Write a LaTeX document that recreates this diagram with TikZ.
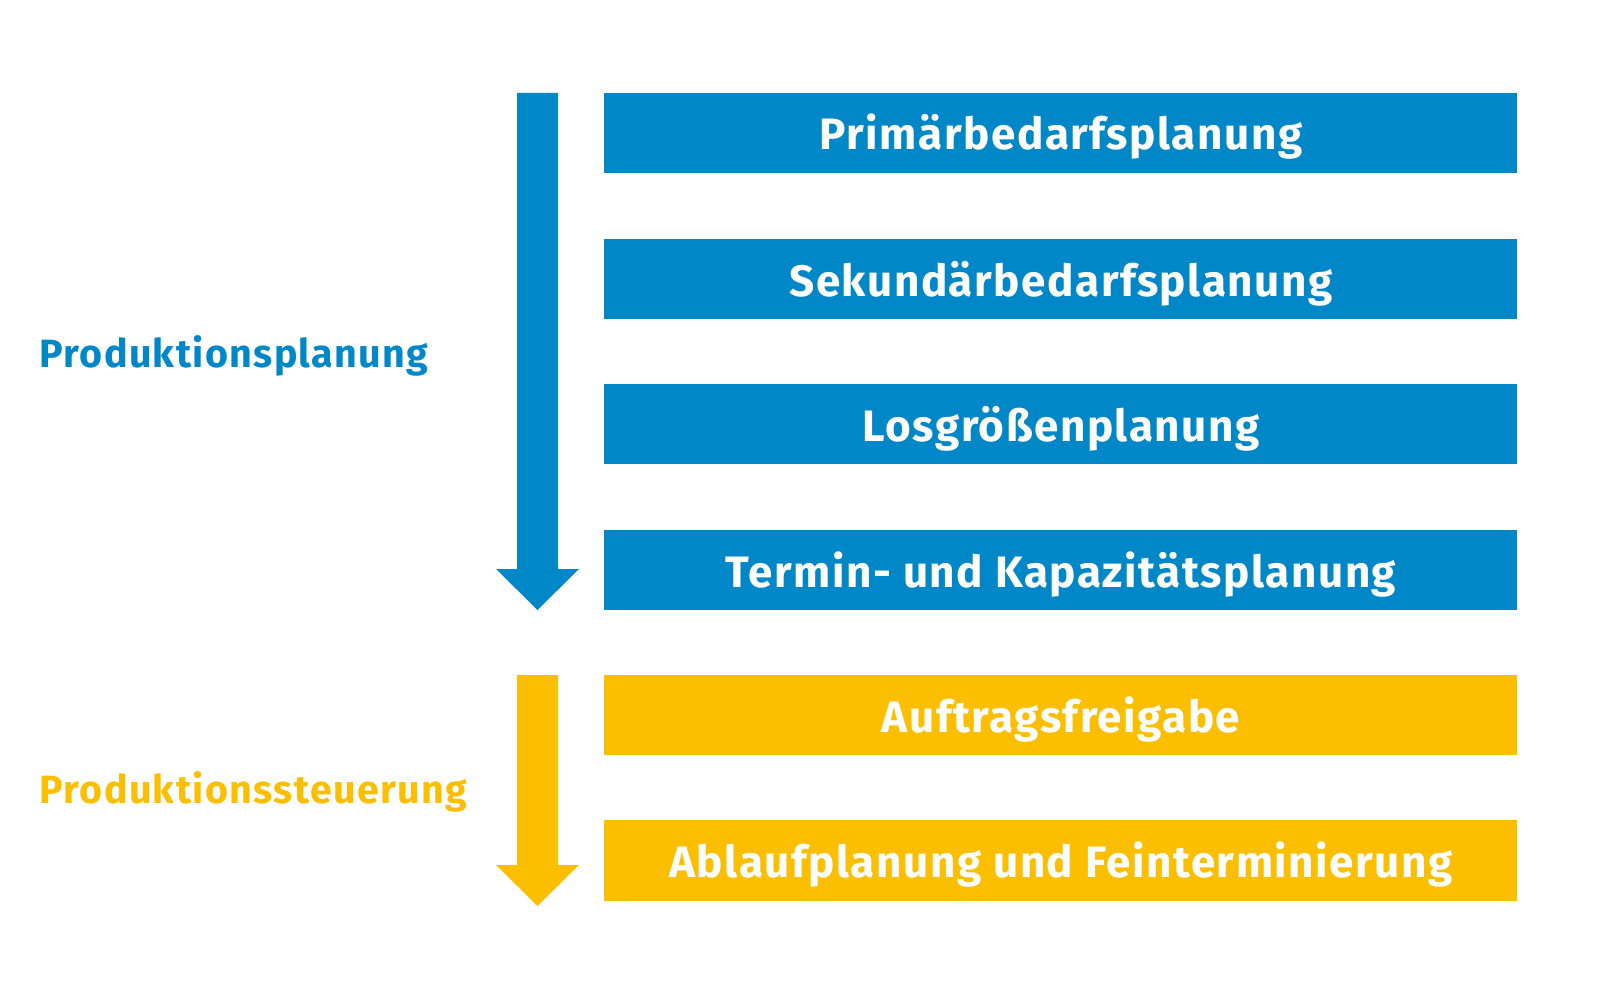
\documentclass[tikz,border=0pt]{standalone}
\usepackage{fontspec}
\setmainfont{Fira Sans}[UprightFont={* Bold},BoldFont={* Bold},LetterSpace=3.5]
\definecolor{pblue}{RGB}{0,135,200}
\definecolor{pyellow}{RGB}{252,191,0}
\tikzset{
  stepbox/.style={draw=none, text=white, anchor=base, inner sep=0, font=\fontsize{22}{26}\selectfont},
  sidelabel/.style={text=#1, anchor=base west, inner sep=0, font=\fontsize{19.7}{23}\selectfont}
}
\begin{document}
\begin{tikzpicture}[x=0.5pt,y=-0.5pt]
\useasboundingbox (0,0) rectangle (1600,1000);
% boxes
\foreach \n/\t/\b/\c/\txt in {
  b1/93/173/pblue/Primärbedarfsplanung,
  b2/239/319/pblue/Sekundärbedarfsplanung,
  b3/384/464/pblue/Losgrößenplanung,
  b4/530/610/pblue/Termin- und Kapazitätsplanung,
  b5/675/755/pyellow/Auftragsfreigabe,
  b6/820/901/pyellow/Ablaufplanung und Feinterminierung}{
  \fill[\c] (604,\t) rectangle (1517,\b);
  \node[stepbox] (\n) at (1061,{(\t+\b)/2+17}) {\txt};
}
% arrows
\fill[pblue] (517,93) -- (558,93) -- (558,569) -- (579,569) -- (537.5,610) -- (496,569) -- (517,569) -- cycle;
\fill[pyellow] (517,675) -- (558,675) -- (558,865) -- (579,865) -- (537.5,906) -- (496,865) -- (517,865) -- cycle;
% labels
\node[sidelabel=pblue] (lp) at (39,367) {Produktionsplanung};
\node[sidelabel=pyellow] (ls) at (39,803) {Produktionssteuerung};
\end{tikzpicture}
\end{document}
